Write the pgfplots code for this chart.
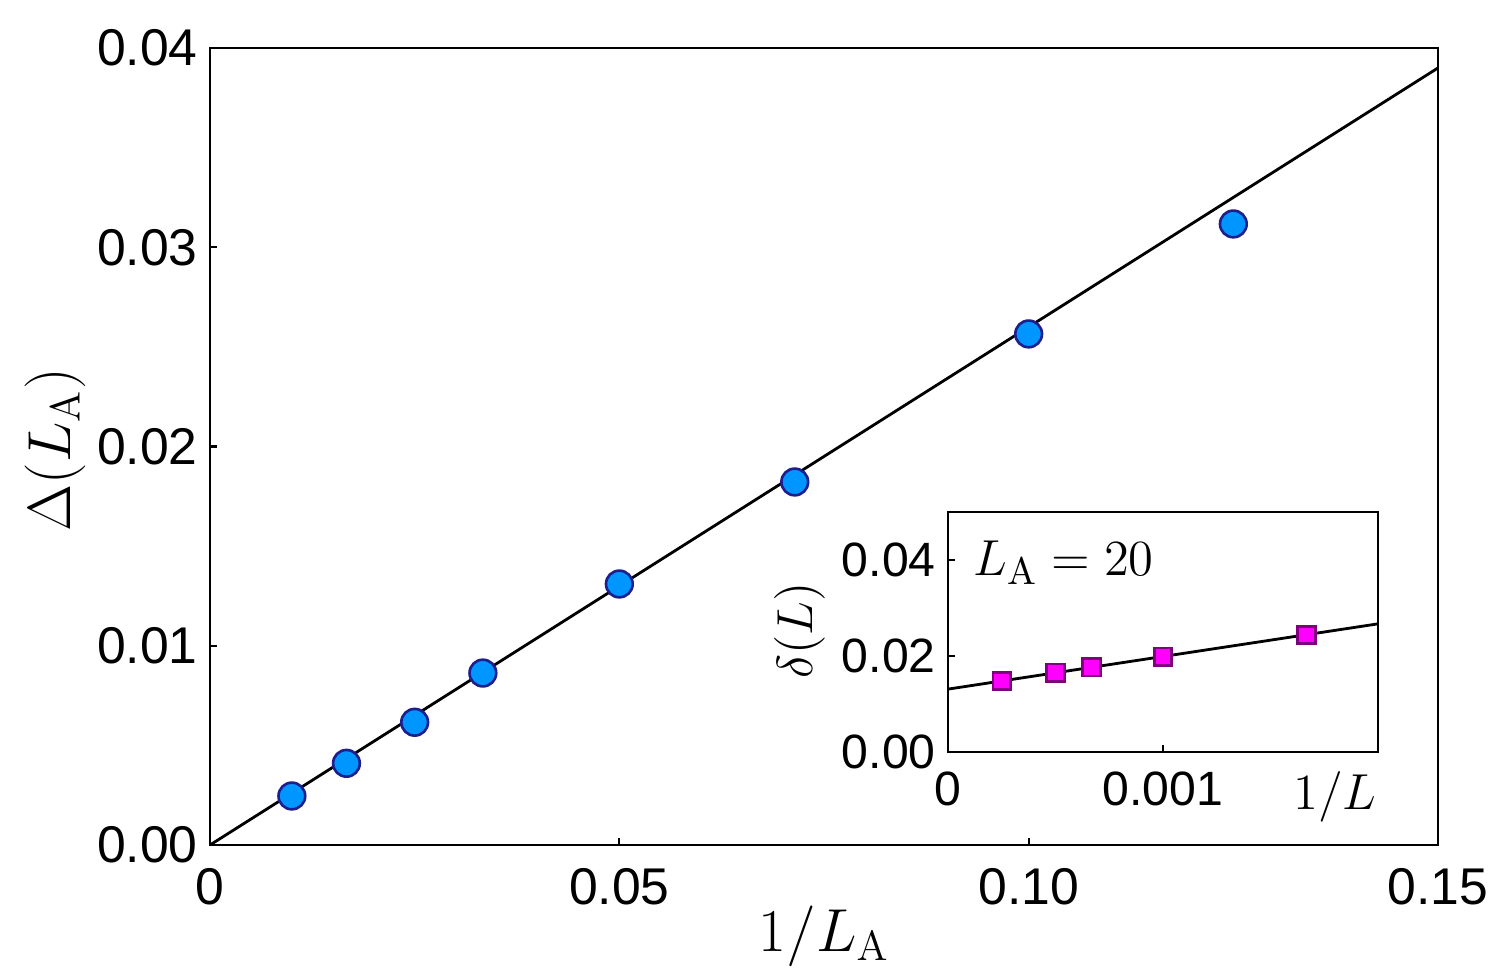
\documentclass[border=0pt]{standalone}
\usepackage[no-math]{fontspec}
\setmainfont{Liberation Sans}
\usepackage{pgfplots}
\pgfplotsset{compat=1.18}

\definecolor{ptfill}{RGB}{0,150,255}
\definecolor{ptedge}{RGB}{30,30,140}
\definecolor{sqfill}{RGB}{255,0,255}
\definecolor{sqedge}{RGB}{128,0,128}

\begin{document}
\begin{tikzpicture}
\useasboundingbox (0,0) rectangle (15cm,9.75cm);

% main panel: gap versus inverse subsystem size
\begin{axis}[
  at={(2.10cm,1.30cm)}, anchor=south west,
  scale only axis, width=12.28cm, height=7.97cm,
  xmin=0, xmax=0.15, ymin=0, ymax=0.04,
  xtick={0,0.05,0.10,0.15}, xticklabels={0,0.05,0.10,0.15},
  ytick={0,0.01,0.02,0.03,0.04}, yticklabels={0.00,0.01,0.02,0.03,0.04},
  scaled x ticks=false, scaled y ticks=false,
  tick align=inside, xtick pos=bottom, ytick pos=left,
  major tick length=2pt,
  axis line style={line width=0.6pt}, every tick/.style={line width=0.6pt,black},
  tick label style={font=\fontsize{14.7}{17}\selectfont},
  xticklabel style={yshift=-3pt},
  xlabel={$1/L_{\mathrm{A}}$}, ylabel={$\Delta(L_{\mathrm{A}})$},
  label style={font=\fontsize{17.5}{20}\selectfont},
  xlabel style={at={(axis description cs:0.5,-0.115)}, anchor=center},
  ylabel style={at={(axis description cs:-0.126,0.496)}, anchor=center, rotate=0},
  clip=false,
]
\addplot[black, line width=0.8pt] coordinates {(0,0) (0.15,0.0390)};
\addplot[only marks, mark=*, mark size=3.8pt,
  mark options={fill=ptfill, draw=ptedge, line width=0.75pt}] coordinates {
  (0.01,0.00246) (0.016667,0.00410) (0.025,0.00616) (0.033333,0.00863)
  (0.05,0.0131) (0.071429,0.01822) (0.1,0.02565) (0.125,0.03117)
};
\end{axis}

% inset: extrapolation in inverse system size at fixed L_A
\begin{axis}[
  at={(9.48cm,2.23cm)}, anchor=south west,
  scale only axis, width=4.30cm, height=2.40cm,
  axis background/.style={fill=white},
  xmin=0, xmax=0.002, ymin=0, ymax=0.05,
  xtick={0,0.001}, xticklabels={0,0.001},
  ytick={0,0.02,0.04}, yticklabels={0.00,0.02,0.04},
  scaled x ticks=false, scaled y ticks=false,
  tick align=inside, xtick pos=bottom, ytick pos=left,
  major tick length=2pt,
  axis line style={line width=0.6pt}, every tick/.style={line width=0.6pt,black},
  tick label style={font=\fontsize{13.7}{16}\selectfont},
  xticklabel style={yshift=-2pt},
  xlabel={$1/L$}, ylabel={$\delta(L)$},
  label style={font=\fontsize{15.5}{18}\selectfont},
  xlabel style={at={(axis description cs:0.90,-0.185)}, anchor=center},
  ylabel style={at={(axis description cs:-0.344,0.508)}, anchor=center, rotate=0},
  clip=false,
]
\addplot[black, line width=0.8pt] coordinates {(0,0.0131) (0.002,0.0267)};
\addplot[only marks, mark=square*, mark size=2.5pt,
  mark options={fill=sqfill, draw=sqedge, line width=0.75pt}] coordinates {
  (0.00025,0.01479) (0.0005,0.01652) (0.000667,0.01764) (0.001,0.01985) (0.001667,0.02438)
};
\node[anchor=west, font=\fontsize{15}{18}\selectfont] at (axis description cs:0.03,0.79) {$L_{\mathrm{A}} = 20$};
\end{axis}
\end{tikzpicture}
\end{document}
